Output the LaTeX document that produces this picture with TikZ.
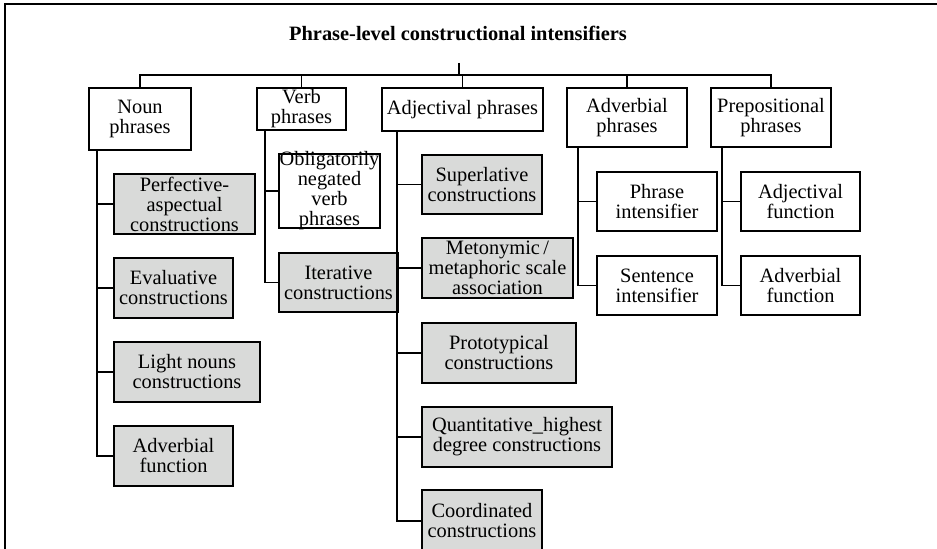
\documentclass[tikz,border=0pt]{standalone}
\usepackage{fontspec}
\setmainfont{Liberation Serif}
\definecolor{boxgray}{RGB}{217,218,217}

\begin{document}
\begin{tikzpicture}[
  x=0.5pt, y=-0.5pt,
  box/.style={draw, line width=0.85pt, align=center, inner sep=0pt,
    font=\fontsize{10.2}{10}\selectfont},
  gbox/.style={box, fill=boxgray},
  line width=0.85pt
]
  \useasboundingbox (0,0) rectangle (937,549);
  \draw[line width=1.1pt] (5,560) -- (5,4) -- (937,4);

  \node[font=\fontsize{10.2}{10}\selectfont\bfseries] (title) at (458,33) {Phrase-level constructional intensifiers};
  \coordinate (top) at (459,63);
  \coordinate (bar) at (459,75);

  % phrase types
  \node[box, minimum width=51pt, minimum height=31pt] (noun) at (140,119) {Noun\\phrases};
  \node[box, minimum width=44.5pt, minimum height=21pt] (verb) at (301.5,109) {Verb\\phrases};
  \node[box, minimum width=80.5pt, minimum height=21.5pt] (adj) at (462.5,109.5) {Adjectival phrases};
  \node[box, minimum width=60pt, minimum height=29.5pt] (adv) at (627,117.5) {Adverbial\\phrases};
  \node[box, minimum width=60pt, minimum height=29.5pt] (prep) at (771,117.5) {Prepositional\\phrases};

  % noun phrases
  \node[gbox, minimum width=70.5pt, minimum height=30pt] (perf) at (184.5,204) {Perfective-\\aspectual\\constructions};
  \node[gbox, minimum width=59.5pt, minimum height=30pt] (eval) at (173.5,288) {Evaluative\\constructions};
  \node[gbox, minimum width=73pt, minimum height=30pt] (light) at (187,372) {Light nouns\\constructions};
  \node[gbox, minimum width=59.5pt, minimum height=30pt] (nadv) at (173.5,456) {Adverbial\\function};

  % verb phrases
  \node[box, minimum width=50.5pt, inner ysep=-1pt] (oblig) at (329.5,191) {Obligatorily\\negated\\verb\\phrases};
  \node[gbox, minimum width=59.5pt, minimum height=29.5pt] (iter) at (338.5,282.5) {Iterative\\constructions};

  % adjectival phrases
  \node[gbox, minimum width=60pt, minimum height=29.5pt] (sup) at (482,184.5) {Superlative\\constructions};
  \node[gbox, minimum width=75.5pt, minimum height=30pt] (meto) at (497.5,268) {Metonymic\,/\\metaphoric scale\\association};
  \node[gbox, minimum width=77pt, minimum height=30pt] (proto) at (499,353) {Prototypical\\constructions};
  \node[gbox, minimum width=95pt, minimum height=30pt] (quant) at (517,437) {Quantitative\_highest\\degree constructions};
  \node[gbox, minimum width=60pt, minimum height=31pt] (coord) at (482,521) {Coordinated\\constructions};

  % adverbial and prepositional phrases
  \node[box, minimum width=60pt, minimum height=29.5pt] (phr) at (657,201.5) {Phrase\\intensifier};
  \node[box, minimum width=60pt, minimum height=29.5pt] (sent) at (657,285.5) {Sentence\\intensifier};
  \node[box, minimum width=59.5pt, minimum height=29.5pt] (adjf) at (800.5,201.5) {Adjectival\\function};
  \node[box, minimum width=59.5pt, minimum height=29.5pt] (advf) at (800.5,285.5) {Adverbial\\function};

  \draw[line width=1.1pt] (top) -- (bar);
  \draw (noun.north) |- (bar) -| (prep.north);
  \draw (verb.north) -- (verb.north |- bar);
  \draw (adj.north) -- (adj.north |- bar);
  \draw (adv.north) -- (adv.north |- bar);

  \draw ([xshift=4.5pt]noun.south west) |- (perf.west);
  \draw ([xshift=4.5pt]noun.south west) |- (eval.west);
  \draw ([xshift=4.5pt]noun.south west) |- (light.west);
  \draw ([xshift=4.5pt]noun.south west) |- (nadv.west);
  \draw ([xshift=4.5pt]verb.south west) |- (oblig.west);
  \draw ([xshift=4.5pt]verb.south west) |- (iter.west);
  \draw ([xshift=8pt]adj.south west) |- (sup.west);
  \draw ([xshift=8pt]adj.south west) |- (meto.west);
  \draw ([xshift=8pt]adj.south west) |- (proto.west);
  \draw ([xshift=8pt]adj.south west) |- (quant.west);
  \draw ([xshift=8pt]adj.south west) |- (coord.west);
  \draw ([xshift=6pt]adv.south west) |- (phr.west);
  \draw ([xshift=6pt]adv.south west) |- (sent.west);
  \draw ([xshift=6pt]prep.south west) |- (adjf.west);
  \draw ([xshift=6pt]prep.south west) |- (advf.west);
\end{tikzpicture}
\end{document}
